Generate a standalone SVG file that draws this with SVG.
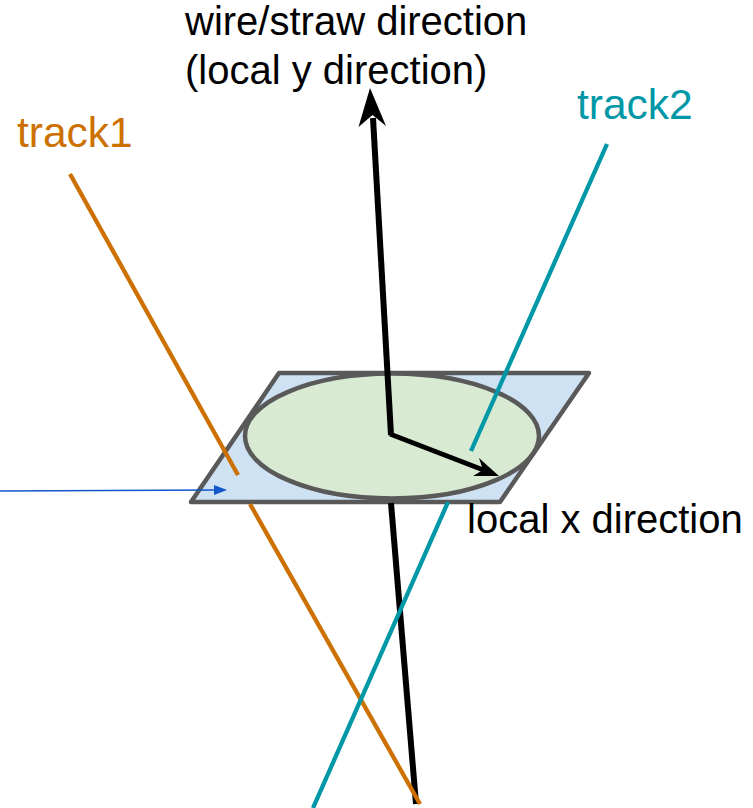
<svg xmlns="http://www.w3.org/2000/svg" width="753" height="808" viewBox="0 0 753 808">
<style>
text{font-family:"Liberation Sans",Arial,sans-serif;font-size:40px}
.c{font-size:42.500px}
.s{stroke:#595959;stroke-width:4.5;stroke-linejoin:round}
.k{stroke:#000;stroke-width:6;fill:none}
.o{stroke:#cc7000;stroke-width:4.3;fill:none}
.t{stroke:#0097a7;stroke-width:4.3;fill:none}
</style>
<rect width="753" height="808" fill="#fff"/>
<g id="plane"><polygon class="s" fill="#cfe2f3" points="279,373 589,373 500,502 191,502"/></g>
<g id="disc"><ellipse class="s" fill="#d9ead3" cx="392" cy="436" rx="147" ry="62.5"/></g>
<g id="connectors">
<line class="k" x1="391" y1="435" x2="373" y2="118"/>
<polygon fill="#000" points="370,88 386,126 372.500,115 358.500,127"/>
<line class="k" x1="391" y1="503" x2="416" y2="804"/>
<line class="k" style="stroke-width:4.800" x1="390" y1="434" x2="486" y2="471"/>
<polygon fill="#000" points="499,476 473,476 483,470 479,458"/>
<line class="o" x1="70" y1="174" x2="238" y2="475"/>
<line class="o" x1="250" y1="504" x2="420" y2="804"/>
<line class="t" x1="607" y1="144" x2="471" y2="451"/>
<line class="t" x1="448" y1="502" x2="313" y2="808"/>
<line stroke="#1155cc" stroke-width="1.500" x1="0" y1="491" x2="216" y2="490"/>
<polygon fill="#1155cc" points="227,490 214,485 214,495"/>
</g>
<g id="labels">
<text x="185" y="35" fill="#000">wire/straw direction</text>
<text x="185" y="84" fill="#000">(local y direction)</text>
<text class="c" x="17" y="147" fill="#cc7000">track1</text>
<text class="c" x="577" y="119" fill="#0097a7">track2</text>
<text x="467" y="533" fill="#000">local x direction</text>
</g>
</svg>
